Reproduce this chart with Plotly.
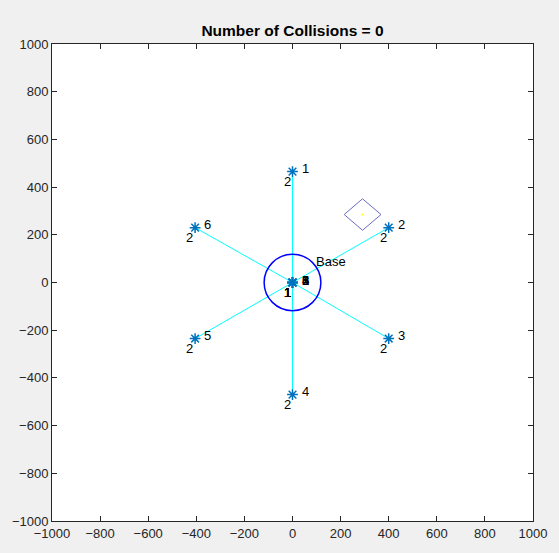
import plotly.graph_objects as go

# Agent swarm state
agent_ids = [1, 2, 3, 4, 5, 6]
start_x = [0, 0, 0, 0, 0, 0]
start_y = [0, 0, 0, 0, 0, 0]
start_state = [1, 1, 1, 1, 1, 1]
agent_x = [0, 400, 400, 0, -405, -405]
agent_y = [465, 230, -235, -470, -235, 230]
agent_state = [2, 2, 2, 2, 2, 2]

# Base station
base_x, base_y, base_radius = 0, 0, 118
base_label = "Base"
base_label_pos = (90, 87)

# Target region (diamond)
target_x = [215, 291, 368, 291, 215]
target_y = [285, 351, 285, 219, 285]
target_center = (291, 285)

collisions = 0

FONT = "Liberation Sans, Arial, Helvetica, sans-serif"
AX_COLOR = "#262626"

fig = go.Figure()

# Paths from the start point to each agent
for sx, sy, ax_, ay in zip(start_x, start_y, agent_x, agent_y):
    fig.add_trace(go.Scatter(x=[sx, ax_], y=[sy, ay], mode="lines",
                             line=dict(color="#00ffff", width=1),
                             hoverinfo="skip", showlegend=False))

# Base circle
fig.add_shape(type="circle", xref="x", yref="y",
              x0=base_x - base_radius, x1=base_x + base_radius,
              y0=base_y - base_radius, y1=base_y + base_radius,
              line=dict(color="#0000ff", width=1.5))

# Target diamond
fig.add_trace(go.Scatter(x=target_x, y=target_y, mode="lines",
                         line=dict(color="#6a6ac8", width=1),
                         hoverinfo="skip", showlegend=False))
fig.add_trace(go.Scatter(x=[target_center[0]], y=[target_center[1]], mode="markers",
                         marker=dict(color="#ffff00", size=2),
                         hoverinfo="skip", showlegend=False))

# Agent markers (start and current)
star = dict(symbol="asterisk-open", size=9, color="#0072bd",
            line=dict(color="#0072bd", width=1.5))
fig.add_trace(go.Scatter(x=start_x, y=start_y, mode="markers", marker=star,
                         hoverinfo="skip", showlegend=False))
fig.add_trace(go.Scatter(x=agent_x, y=agent_y, mode="markers", marker=star,
                         hoverinfo="skip", showlegend=False))

annotations = []
def label(x, y, text, xshift, yshift, anchor):
    annotations.append(dict(x=x, y=y, xref="x", yref="y", text=str(text),
                            showarrow=False, xanchor=anchor, yanchor="middle",
                            xshift=xshift, yshift=yshift,
                            font=dict(family=FONT, size=13, color="#000000")))

for i, sx, sy, st in zip(agent_ids, start_x, start_y, start_state):
    label(sx, sy, i, 7, 2, "left")
    label(sx, sy, st, 0, -10, "right")
for i, ax_, ay, st in zip(agent_ids, agent_x, agent_y, agent_state):
    label(ax_, ay, i, 7, 3, "left")
    label(ax_, ay, st, 0, -10, "right")

annotations.append(dict(x=base_label_pos[0], y=base_label_pos[1], xref="x", yref="y",
                        text=base_label, showarrow=False, xanchor="left",
                        yanchor="middle",
                        font=dict(family=FONT, size=13, color="#000000")))

axis_common = dict(range=[-1000, 1000], dtick=200, tick0=-1000,
                   ticks="inside", ticklen=5, tickcolor=AX_COLOR,
                   showline=True, linecolor=AX_COLOR, linewidth=1,
                   mirror="allticks", showgrid=False, zeroline=False,
                   tickfont=dict(family=FONT, size=13, color=AX_COLOR))

fig.update_layout(
    width=559, height=553,
    margin=dict(l=52, r=23, t=44, b=26),
    paper_bgcolor="#f0f0f0", plot_bgcolor="#ffffff",
    title=dict(text=f"<b>Number of Collisions = {collisions}</b>",
               x=0.5, xanchor="center", xref="paper",
               y=1, yref="container", yanchor="top", pad=dict(t=25),
               font=dict(family=FONT, size=15.5, color="#000000")),
    xaxis=axis_common,
    yaxis=axis_common,
    annotations=annotations,
)

fig.write_html("out.html")
